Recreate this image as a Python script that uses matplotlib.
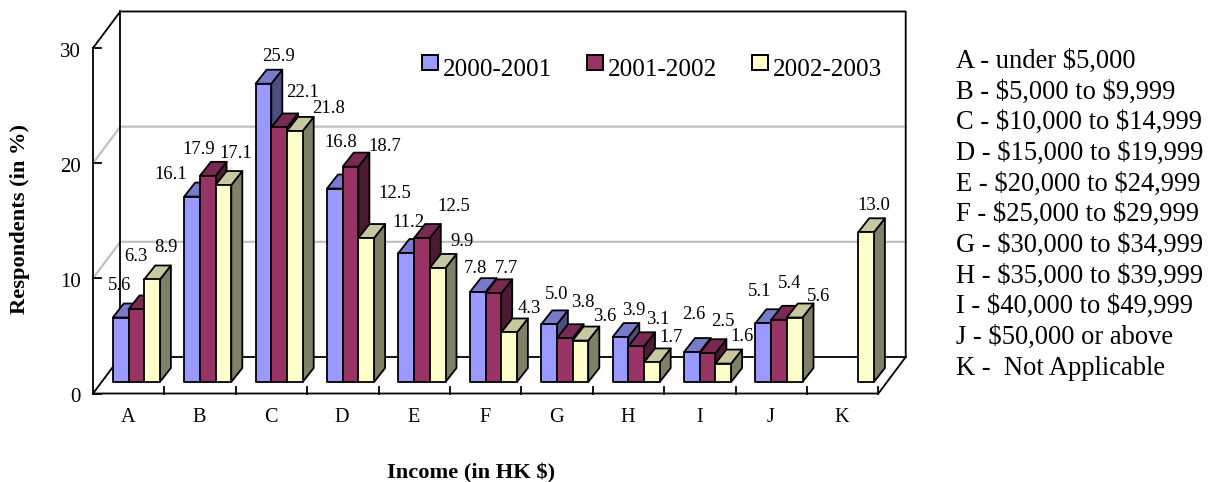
import matplotlib
matplotlib.use("Agg")
import matplotlib.pyplot as plt
from matplotlib.patches import Polygon, Rectangle

plt.rcParams['font.family'] = ['Liberation Serif', 'DejaVu Serif']

categories = list("ABCDEFGHIJK")
series_names = ["2000-2001", "2001-2002", "2002-2003"]
values_2000 = [5.6, 16.1, 25.9, 16.8, 11.2, 7.8, 5.0, 3.9, 2.6, 5.1, None]
values_2001 = [6.3, 17.9, 22.1, 18.7, 12.5, 7.7, 3.8, 3.1, 2.5, 5.4, None]
values_2002 = [8.9, 17.1, 21.8, 12.5, 9.9, 4.3, 3.6, 1.7, 1.6, 5.6, 13.0]
y_ticks = [0, 10, 20, 30]
key_lines = ["A - under $5,000", "B - $5,000 to $9,999", "C - $10,000 to $14,999",
             "D - $15,000 to $19,999", "E - $20,000 to $24,999", "F - $25,000 to $29,999",
             "G - $30,000 to $34,999", "H - $35,000 to $39,999", "I - $40,000 to $49,999",
             "J - $50,000 or above", "K -  Not Applicable"]

# label offsets (pixels) from the top-centre of each bar's front face
label_off_2000 = [(-1,-32),(-21,-22),(15.5,-27),(6,-46),(2,-31),(-2,-24),(8,-30),(13.5,-27),(2,-38),(-4,-32),None]
label_off_2001 = [(0,-53),(-9,-26),(23,-35),(34,-20),(32,-32),(13,-25),(18,-36),(22,-27),(15.4,-32),(11,-36),None]
label_off_2002 = [(14,-32),(12.5,-32),(34,-22),(29,-45),(24,-26),(20,-24),(24.5,-24.5),(19,-25),(18.7,-26.6),(24,-21),(8,-27)]

front = ["#9999FF", "#993366", "#FFFFCC"]
top = ["#7A7ACC", "#7A2952", "#C8C8A0"]
side = ["#4D4D80", "#4D1A33", "#808066"]

W, H = 1216, 482
PX_X0, PX_Y0 = 93.0, 393.5      # pixel of category-edge 0, value 0 on the front floor edge
PX_CAT, PX_VAL = 71.4, 11.517   # pixels per category / per unit

fig = plt.figure(figsize=(W/100, H/100), dpi=100)
ax = fig.add_axes([0, 0, 1, 1])
ax.set_xlim(-PX_X0/PX_CAT, (W-PX_X0)/PX_CAT)
ax.set_ylim((PX_Y0-H)/PX_VAL, PX_Y0/PX_VAL)
ax.axis("off")

px = lambda x: (x-PX_X0)/PX_CAT
py = lambda y: (PX_Y0-y)/PX_VAL
dxu = lambda d: d/PX_CAT
dyu = lambda d: d/PX_VAL

n = len(categories)
ymax = y_ticks[-1]
WX, WY = dxu(27.3), dyu(36.5)
LW = 1.3

# walls
for t in y_ticks[1:-1]:
    ax.plot([0, WX, n+WX], [t, t+WY, t+WY], color="#C0C0C0", lw=1.6, zorder=1, solid_joinstyle="miter")
k = dict(color="black", lw=LW, zorder=2, solid_capstyle="projecting")
ax.plot([0, 0], [0, ymax], **k)
ax.plot([0, WX, n+WX, n+WX, n, 0, WX, n+WX], [ymax, ymax+WY, ymax+WY, WY, 0, 0, WY, WY], **k)
ax.plot([WX, WX], [WY, ymax+WY], **k)
for t in y_ticks:
    ax.plot([0, dxu(7.5)], [t, t], **k)
for i in range(1, n+1):
    ax.plot([i, i], [0, dyu(7)], **k)

# tick labels
for t in y_ticks:
    ax.text(px(81), t-dyu(4.5), str(t), ha="right", va="center", fontsize=15, parse_math=False)
for i, c in enumerate(categories):
    ax.text(i+0.5-dxu(0.7), py(417), c, ha="center", va="center", fontsize=14.6, parse_math=False)

# bars
GAP, BW = dxu(19.8), dxu(15.7)
BASE = dyu(11.5)
DX, DY = dxu(11), dyu(14)
all_vals = [values_2000, values_2001, values_2002]
all_offs = [label_off_2000, label_off_2001, label_off_2002]
z = 3
for i in range(n):
    for j in range(3):
        v = all_vals[j][i]
        if v is None:
            continue
        x0 = i+GAP+j*BW
        x1 = x0+BW
        y0, y1 = BASE, BASE+v
        pk = dict(edgecolor="black", lw=LW, joinstyle="round", zorder=z)
        ax.add_patch(Polygon([(x1, y0), (x1+DX, y0+DY), (x1+DX, y1+DY), (x1, y1)], facecolor=side[j], **pk))
        ax.add_patch(Polygon([(x0, y1), (x0+DX, y1+DY), (x1+DX, y1+DY), (x1, y1)], facecolor=top[j], **pk))
        ax.add_patch(Polygon([(x0, y0), (x1, y0), (x1, y1), (x0, y1)], facecolor=front[j], **pk))
        z += 1
for i in range(n):
    for j in range(3):
        v = all_vals[j][i]
        if v is None:
            continue
        ox, oy = all_offs[j][i]
        ax.annotate(f"{v:.1f}", xy=(i+GAP+(j+0.5)*BW, BASE+v),
                    xytext=(ox*0.72, -oy*0.72), textcoords="offset points",
                    ha="center", va="center", fontsize=13.4, zorder=100)

# legend
for name, c, sx, tx in zip(series_names, front, [422, 587, 752], [443, 608, 773]):
    ax.add_patch(Rectangle((px(sx), py(70)), dxu(16), dyu(15), facecolor=c, edgecolor="black", lw=1.4, zorder=101))
    ax.text(px(tx), py(76.5), name, ha="left", va="baseline", fontsize=18.1, zorder=101, parse_math=False)

# axis titles
ax.text(px(471.5), py(473), "Income (in HK $)", ha="center", va="center", fontsize=16.2, fontweight="bold", parse_math=False)
ax.text(px(20.5), py(219), "Respondents (in %)", ha="center", va="center", rotation=90, fontsize=16.2, fontweight="bold", parse_math=False)

# key
for m, line in enumerate(key_lines):
    ax.text(px(956), py(68+m*30.67), line, ha="left", va="baseline", fontsize=19.1, parse_math=False)

fig.savefig("out.png", dpi=100)
